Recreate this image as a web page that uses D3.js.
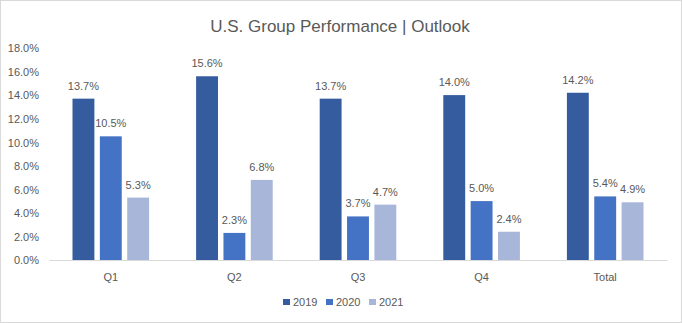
<html>
<meta charset="utf-8">
<script src="https://d3js.org/d3.v7.min.js"></script>
<style>
  body { margin: 0; background: #fff; }
  svg text { font-family: "Liberation Sans Narrow", "Liberation Sans", Arial, sans-serif; fill: #595959; }
</style>
<body>
<script>
// quarters along the x axis, one group of bars each
const categories = ["Q1", "Q2", "Q3", "Q4", "Total"];
const years = ["2019", "2020", "2021"];
const values2019 = [13.7, 15.6, 13.7, 14.0, 14.2];
const values2020 = [10.5, 2.3, 3.7, 5.0, 5.4];
const values2021 = [5.3, 6.8, 4.7, 2.4, 4.9];
const yTicks = [0, 2, 4, 6, 8, 10, 12, 14, 16, 18];
const colors = ["#355C9F", "#4472C4", "#A8B6DA"];

const series = [values2019, values2020, values2021];
const rows = [];
categories.forEach((c, i) => {
  years.forEach((y, j) => rows.push({ cat: c, year: y, value: series[j][i] }));
});

const W = 682, H = 323;
const plot = { left: 49, right: 667, top: 48, bottom: 260 };

const svg = d3.select('body').append('svg')
  .attr('width', W)
  .attr('height', H);

// chart area border
svg.append('rect')
  .attr('x', 0.5).attr('y', 0.5)
  .attr('width', W - 1).attr('height', H - 1)
  .attr('fill', '#fff')
  .attr('stroke', '#d9d9d9');

svg.append('text')
  .attr('x', 340)
  .attr('y', 32)
  .attr('text-anchor', 'middle')
  .style('font-size', '17px')
  .text('U.S. Group Performance | Outlook');

const x = d3.scaleBand()
  .domain(categories)
  .range([plot.left, plot.right]);

const inner = d3.scaleBand()
  .domain(years)
  .range([23.5, x.bandwidth() - 23.5])
  .paddingInner(0.2);

const y = d3.scaleLinear()
  .domain([0, 18])
  .range([plot.bottom, plot.top]);

// y axis labels, no line
const yAxis = svg.append('g')
  .attr('transform', `translate(${plot.left - 10},0)`)
  .call(d3.axisLeft(y).tickValues(yTicks).tickSize(0).tickFormat(d => d.toFixed(1) + '%'));
yAxis.select('.domain').remove();
yAxis.selectAll('text').style('font-size', '11px').attr('dy', '0.35em').attr('x', 0);

// category labels and baseline
const xAxis = svg.append('g')
  .attr('transform', `translate(0,${plot.bottom})`)
  .call(d3.axisBottom(x).tickSize(0));
xAxis.select('.domain').attr('stroke', '#d9d9d9');
xAxis.selectAll('text').style('font-size', '11px').attr('dy', '0').attr('y', 21);

const groups = svg.selectAll('.grp').data(categories)
  .enter().append('g')
  .attr('class', 'grp')
  .attr('transform', d => `translate(${x(d)},0)`);

groups.selectAll('rect')
  .data(c => rows.filter(r => r.cat === c))
  .enter().append('rect')
  .attr('x', d => inner(d.year))
  .attr('width', inner.bandwidth())
  .attr('y', d => y(d.value))
  .attr('height', d => plot.bottom - y(d.value))
  .attr('fill', d => colors[years.indexOf(d.year)]);

groups.selectAll('.lbl')
  .data(c => rows.filter(r => r.cat === c))
  .enter().append('text')
  .attr('class', 'lbl')
  .attr('x', d => inner(d.year) + inner.bandwidth() / 2)
  .attr('y', d => y(d.value) - 9)
  .attr('text-anchor', 'middle')
  .style('font-size', '11px')
  .text(d => d.value.toFixed(1) + '%');

// legend
const legend = svg.append('g');
const legendX = [283, 326, 369];
years.forEach((yr, i) => {
  legend.append('rect')
    .attr('x', legendX[i]).attr('y', 299)
    .attr('width', 7).attr('height', 6)
    .attr('fill', colors[i]);
  legend.append('text')
    .attr('x', legendX[i] + 10).attr('y', 306)
    .style('font-size', '11px')
    .text(yr);
});
</script>
</body>
</html>
